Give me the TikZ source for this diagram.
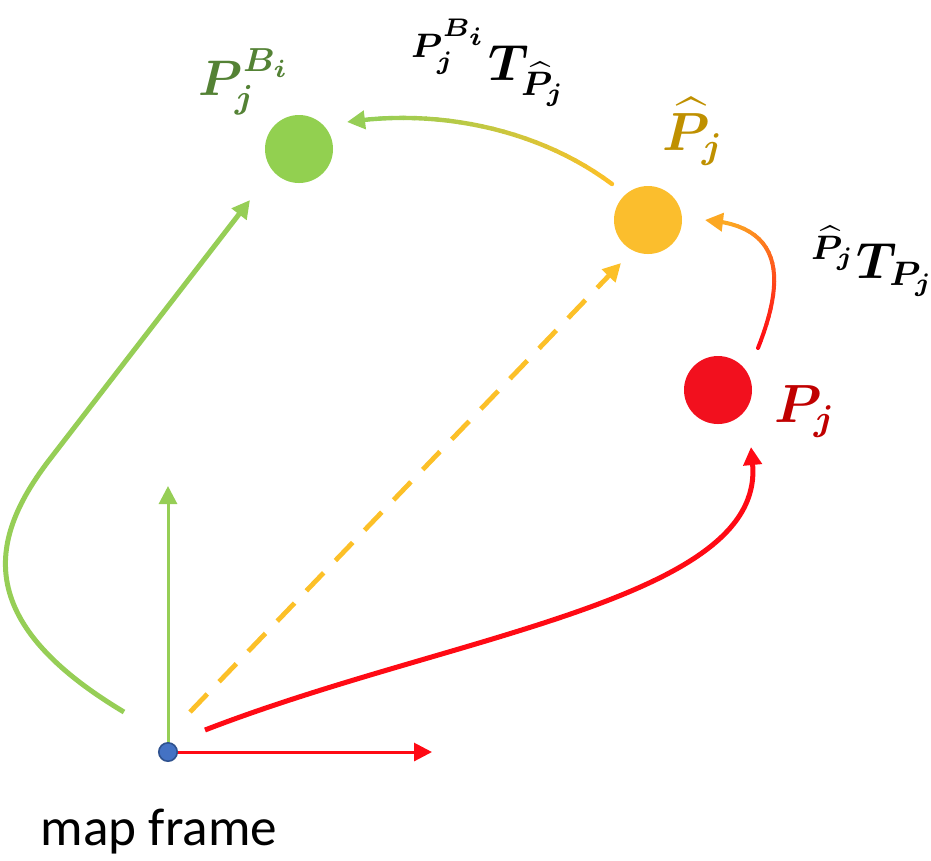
\documentclass[tikz,border=0pt]{standalone}
\usepackage{amsmath,bm}
\usepackage{fontspec}
\newfontfamily\calibrifont{Carlito}
\usetikzlibrary{arrows.meta}
\definecolor{cgrn}{RGB}{146,208,80}
\definecolor{cgrnline}{RGB}{150,206,86}
\definecolor{cdkgrn}{RGB}{84,130,53}
\definecolor{cyel}{RGB}{251,190,45}
\definecolor{cyelline}{RGB}{252,192,40}
\definecolor{cgold}{RGB}{191,144,0}
\definecolor{cred}{RGB}{242,16,30}
\definecolor{credline}{RGB}{255,10,20}
\definecolor{corange}{RGB}{252,168,35}
\definecolor{cdkred}{RGB}{192,0,0}
\definecolor{cblue}{RGB}{68,114,196}
\definecolor{cbluedk}{RGB}{47,82,143}
\newcommand\gradcurve[7]{%
  \foreach \k in {0,...,22}{%
    \pgfmathsetmacro\pa{\k*0.04}%
    \pgfmathsetmacro\pb{(\k+1)*0.04}%
    \pgfmathsetmacro\pc{100-100*\k/22}%
    \path #1 .. controls #2 and #3 .. #4 coordinate[pos=\pa] (ga) coordinate[pos=\pb] (gb);
    \draw[line width=#7, line cap=round, color=#5!\pc!#6] (ga) -- (gb);
  }%
  \path #1 .. controls #2 and #3 .. #4 coordinate[pos=0.92] (gc);
  \draw[line width=#7, color=#6, tipped] (gc) -- #4;
}
\begin{document}
\begin{tikzpicture}[x=0.25pt,y=-0.25pt,
  tipped/.style={-{Triangle[length=4.5pt,width=4.5pt]}},
  dotnode/.style={circle,inner sep=0pt,minimum size=17pt},
  lab/.style={inner sep=0pt,anchor=base west,font=\fontsize{12}{14}\selectfont}]
\useasboundingbox (0,0) rectangle (931,860);
% points
\node[dotnode,fill=cgrn] (G) at (299,149) {};
\node[dotnode,fill=cyel] (Y) at (648,220) {};
\node[dotnode,fill=cred] (R) at (718,390) {};
% axes
\coordinate (xa) at (432,752);
\coordinate (ya) at (168,486);
\draw[credline, line width=0.75pt, tipped] (168,752) -- (xa);
\draw[cgrnline, line width=0.75pt, tipped] (168,752) -- (ya);
\node[circle,inner sep=0pt,minimum size=4.6pt,fill=cblue,draw=cbluedk,line width=0.4pt] (O) at (168,752) {};
% green curve
\coordinate (g0) at (124,712);
\coordinate (g1) at (50,459);
\coordinate (g2) at (250,200);
\draw[cgrnline, line width=1.25pt, tipped] (g0) .. controls (-30,620) and (-10,537) .. (g1) -- (g2);
% red curve
\coordinate (r0) at (205,730);
\coordinate (r1) at (751,447);
\draw[credline, line width=1.25pt, tipped] (r0) .. controls (450,635) and (765,600) .. (r1);
% dashed
\coordinate (d0) at (190,712);
\coordinate (d1) at (621,263);
\draw[cyelline, line width=1.2pt, dash pattern=on 6.25pt off 4.25pt, tipped] (d0) -- (d1);
% gradient arrows
\coordinate (ys) at (612,184);
\coordinate (ge) at (347,122);
\gradcurve{(ys)}{(540,130)}{(440,108)}{(ge)}{cyelline}{cgrnline}{1.1pt}
\coordinate (rs) at (758,348);
\coordinate (ye) at (705,220);
\gradcurve{(rs)}{(785,280)}{(785,225)}{(ye)}{credline}{corange}{1.0pt}
% labels
\node[lab, text=cdkgrn, scale=1.04] (LG) at (198,95)
  {$\bm{P}_{\bm{j}}^{\bm{B}_{\bm{i}}}$};
\node[lab, scale=1.06] (LT1) at (410,80)
  {${}^{\bm{P}_{\bm{j}}^{\bm{B}_{\bm{i}}}}\bm{T}_{\widehat{\bm{P}}_{\bm{j}}}$};
\node[lab, text=cgold, scale=1.12] (LY) at (662,150)
  {$\widehat{\bm{P}}_{\bm{j}}$};
\node[lab, scale=1.06] (LT2) at (810,278)
  {${}^{\widehat{\bm{P}}_{\bm{j}}}\bm{T}_{\bm{P}_{\bm{j}}}$};
\node[lab, text=cdkred, scale=1.12] (LR) at (774,422)
  {$\bm{P}_{\bm{j}}$};
\node[inner sep=0pt, anchor=base, font=\calibrifont\fontsize{13.3}{16}\selectfont] (MF) at (159,845) {map frame};
\end{tikzpicture}
\end{document}
